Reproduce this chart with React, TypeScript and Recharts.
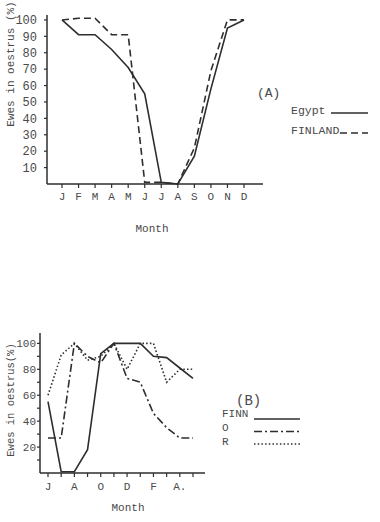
import React from 'react';
import { LineChart, Line, XAxis, YAxis } from 'recharts';

// (A) Egypt vs Finland, calendar year
const monthsA = ['Jan', 'Feb', 'Mar', 'Apr', 'May', 'Jun', 'Jul', 'Aug', 'Sep', 'Oct', 'Nov', 'Dec'];
const monthLettersA = ['J', 'F', 'M', 'A', 'M', 'J', 'J', 'A', 'S', 'O', 'N', 'D'];
const egypt = [100, 91, 91, 82, 71, 55, 1, 0, 17, 58, 95, 100];
const finland = [100, 101, 101, 91, 91, 1, 1, 0, 22, 69, 100, 100];
const yTicksA = [10, 20, 30, 40, 50, 60, 70, 80, 90, 100];

// (B) FINN, O and R, June to May
const monthsB = ['Jun', 'Jul', 'Aug', 'Sep', 'Oct', 'Nov', 'Dec', 'Jan', 'Feb', 'Mar', 'Apr', 'May'];
const monthLettersB = ['J', '', 'A', '', 'O', '', 'D', '', 'F', '', 'A.', ''];
const finn = [55, 1, 1, 18, 92, 100, 100, 100, 90, 89, 81, 73];
const breedO = [27, 27, 100, 90, 85, 100, 73, 70, 46, 35, 27, 27];
const breedR = [60, 91, 100, 87, 90, 100, 80, 100, 100, 70, 80, 80];
const yTicksB = [10, 20, 30, 40, 50, 60, 70, 80, 90, 100];

const MONO = '"Liberation Mono", "DejaVu Sans Mono", monospace';
const INK = '#2e2e2e';
const TEXT = '#4a4a4a';

const seriesA = [
  { key: 'egypt', name: 'Egypt', dash: undefined as string | undefined },
  { key: 'finland', name: 'FINLAND', dash: '7 4' },
];
const seriesB = [
  { key: 'finn', name: 'FINN', dash: undefined as string | undefined },
  { key: 'o', name: 'O', dash: '8 3 2 3' },
  { key: 'r', name: 'R', dash: '1.5 2.2' },
];

const dataA = monthsA.map((m, i) => ({ m, egypt: egypt[i], finland: finland[i] }));
const dataB = monthsB.map((m, i) => ({ m, finn: finn[i], o: breedO[i], r: breedR[i] }));

const axisLine = { stroke: INK, strokeWidth: 1.5 };
const tickLine = { stroke: INK, strokeWidth: 1.2 };

function ChartA() {
  return (
    <LineChart width={380} height={240} data={dataA} margin={{ top: 15, right: 117, bottom: 26, left: 7 }}>
      <XAxis
        dataKey="m"
        interval={0}
        padding={{ left: 15, right: 19 }}
        tickFormatter={(_v: string, i: number) => monthLettersA[i]}
        tick={{ fill: TEXT, fontSize: 11, fontFamily: MONO }}
        tickSize={4}
        tickMargin={4}
        axisLine={axisLine}
        tickLine={tickLine}
      />
      <YAxis
        width={40}
        type="number"
        domain={[0, 103]}
        ticks={yTicksA}
        interval={0}
        tick={{ fill: TEXT, fontSize: 12, fontFamily: MONO }}
        tickSize={3}
        tickMargin={7}
        axisLine={axisLine}
        tickLine={tickLine}
      />
      {seriesA.map((s) => (
        <Line
          key={s.key}
          type="linear"
          dataKey={s.key}
          stroke={INK}
          strokeWidth={1.6}
          strokeDasharray={s.dash}
          dot={false}
          isAnimationActive={false}
        />
      ))}
    </LineChart>
  );
}

function ChartB() {
  return (
    <LineChart width={380} height={222} data={dataB} margin={{ top: 33, right: 175, bottom: 19, left: 4 }}>
      <XAxis
        dataKey="m"
        interval={0}
        padding={{ left: 8, right: 12 }}
        tickFormatter={(_v: string, i: number) => monthLettersB[i]}
        tick={{ fill: TEXT, fontSize: 11, fontFamily: MONO }}
        tickSize={4}
        tickMargin={5}
        axisLine={axisLine}
        tickLine={tickLine}
      />
      <YAxis
        width={36}
        type="number"
        domain={[0, 108]}
        ticks={yTicksB}
        interval={0}
        tickFormatter={(v: number) => (v % 20 === 0 ? String(v) : '')}
        tick={{ fill: TEXT, fontSize: 11, fontFamily: MONO }}
        tickSize={3}
        tickMargin={1}
        axisLine={axisLine}
        tickLine={tickLine}
      />
      {seriesB.map((s) => (
        <Line
          key={s.key}
          type="linear"
          dataKey={s.key}
          stroke={INK}
          strokeWidth={1.6}
          strokeDasharray={s.dash}
          dot={false}
          isAnimationActive={false}
        />
      ))}
    </LineChart>
  );
}

function Annotations() {
  const txt = { fill: TEXT, fontFamily: MONO } as const;
  return (
    <svg width={380} height={522} style={{ position: 'absolute', left: 0, top: 0, pointerEvents: 'none' }}>
      {/* panel A */}
      <text {...txt} fontSize={11} textAnchor="middle" transform="translate(14,64) rotate(-90)">
        Ewes in oestrus (%)
      </text>
      <text {...txt} fontSize={11} x={152} y={232} textAnchor="middle">Month</text>
      <text {...txt} fontSize={13} x={257} y={97}>(A)</text>
      {seriesA.map((s, i) => (
        <g key={s.key}>
          <text {...txt} fontSize={11.5} x={291} y={114 + i * 20}>{s.name}</text>
          <line
            x1={i === 0 ? 331 : 340}
            x2={368}
            y1={113 + i * 20}
            y2={113 + i * 20}
            stroke={INK}
            strokeWidth={1.4}
            strokeDasharray={s.dash}
          />
        </g>
      ))}

      {/* panel B */}
      <text {...txt} fontSize={10.5} textAnchor="middle" transform="translate(14,400) rotate(-90)">
        Ewes in oestrus(%)
      </text>
      <text {...txt} fontSize={11} x={128} y={511} textAnchor="middle">Month</text>
      <text {...txt} fontSize={14} x={236} y={405}>(B)</text>
      {seriesB.map((s, i) => (
        <g key={s.key}>
          <text {...txt} fontSize={11} x={222} y={417 + i * 14}>{s.name}</text>
          <line
            x1={254}
            x2={300}
            y1={419 + i * 12.5}
            y2={419 + i * 12.5}
            stroke={INK}
            strokeWidth={1.4}
            strokeDasharray={s.dash}
          />
        </g>
      ))}
    </svg>
  );
}

export default function App() {
  return (
    <div style={{ position: 'absolute', left: 0, top: 0, width: 380, height: 522, background: '#fff' }}>
      <div style={{ position: 'absolute', left: 0, top: 0 }}>
        <ChartA />
      </div>
      <div style={{ position: 'absolute', left: 0, top: 300 }}>
        <ChartB />
      </div>
      <Annotations />
    </div>
  );
}
